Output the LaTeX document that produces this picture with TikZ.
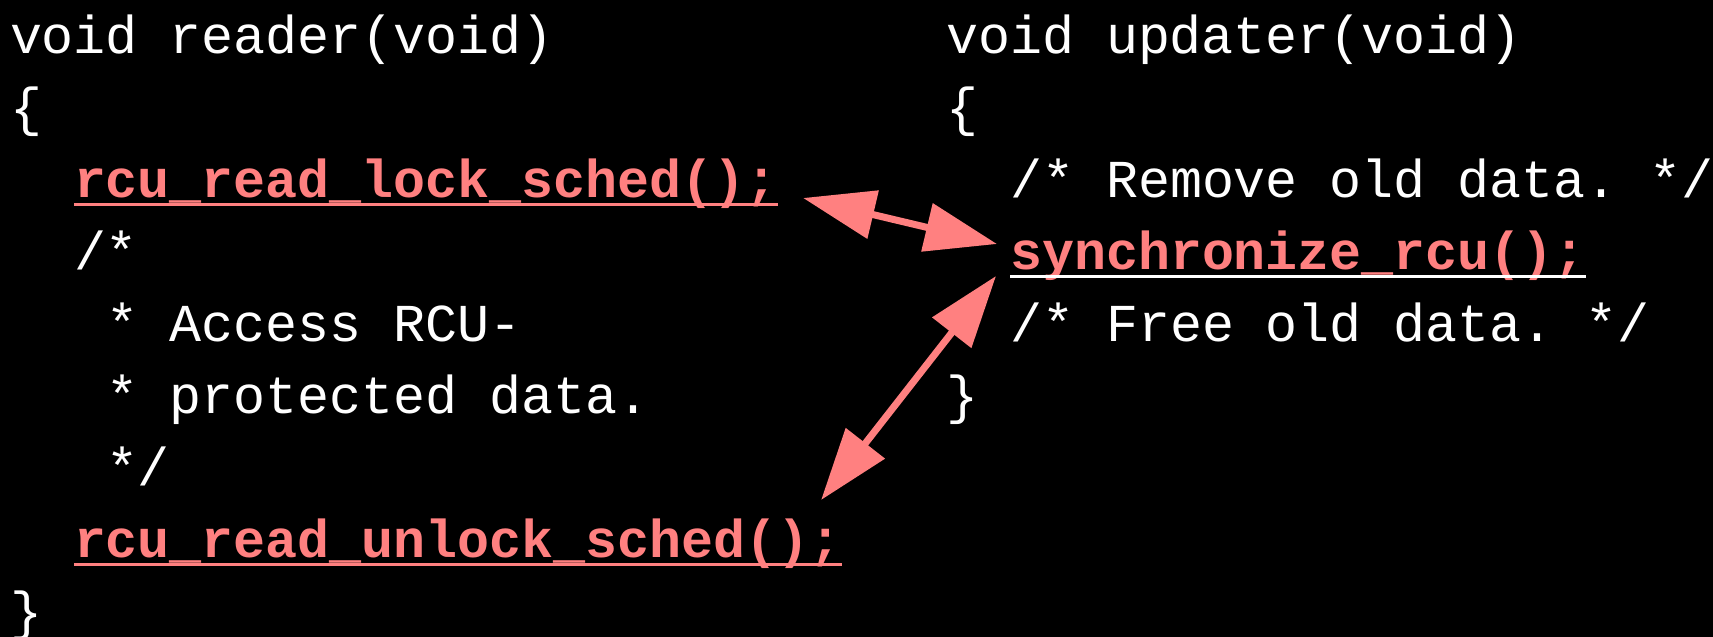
\documentclass[tikz,border=0pt]{standalone}
\usepackage{fontspec}
\setmonofont{Liberation Mono}
\usetikzlibrary{arrows.meta}
\definecolor{hl}{RGB}{255,128,128}
\tikzset{
  code/.style={anchor=base west, inner sep=0pt, outer sep=0pt, text=white,
    font=\ttfamily\fontsize{53.33}{72}\selectfont},
  hot/.style={code, text=hl, font=\ttfamily\bfseries\fontsize{53.33}{72}\selectfont},
  uline/.style={line width=3pt},
  sync/.style={draw=hl, line width=7pt, {Triangle[length=72pt,width=48pt]}-{Triangle[length=72pt,width=48pt]}}
}
\begin{document}
\begin{tikzpicture}[x=1pt,y=-1pt]
\fill[black] (0,0) rectangle (1713,637);
\useasboundingbox (0,0) rectangle (1713,637);
% reader
\node[code] (r1) at (10,53) {void reader(void)};
\node[code] (r2) at (10,125) {\{};
\node[hot]  (lock) at (74,197) {rcu\_read\_lock\_sched();};
\node[code] (r4) at (74,269) {/*};
\node[code] (r5) at (106,341) {* Access RCU-};
\node[code] (r6) at (106,413) {* protected data.};
\node[code] (r7) at (106,485) {*/};
\node[hot]  (unlock) at (74,557) {rcu\_read\_unlock\_sched();};
\node[code] (r9) at (10,629) {\}};
% updater
\node[code] (u1) at (946,53) {void updater(void)};
\node[code] (u2) at (946,125) {\{};
\node[code] (u3) at (1010,197) {/* Remove old data. */};
\node[hot]  (syncn) at (1010,269) {synchronize\_rcu();};
\node[code] (u5) at (1010,341) {/* Free old data. */};
\node[code] (u6) at (946,413) {\}};
% underlines
\draw[uline, hl] ([yshift=-7pt]lock.base west) -- ([yshift=-7pt]lock.base east);
\draw[uline, hl] ([yshift=-7pt]unlock.base west) -- ([yshift=-7pt]unlock.base east);
\draw[uline, white] ([yshift=-7pt]syncn.base west) -- ([yshift=-7pt]syncn.base east);
% arrows
\coordinate (a1) at ([shift={(25,1)}]lock.base east);
\coordinate (b1) at ([shift={(-13,-25)}]syncn.base west);
\coordinate (a2) at ([shift={(-21,-57)}]unlock.base east);
\coordinate (b2) at ([shift={(-14,7)}]syncn.base west);
\draw[sync] (a1) -- (b1);
\draw[sync] (a2) -- (b2);
\end{tikzpicture}
\end{document}
